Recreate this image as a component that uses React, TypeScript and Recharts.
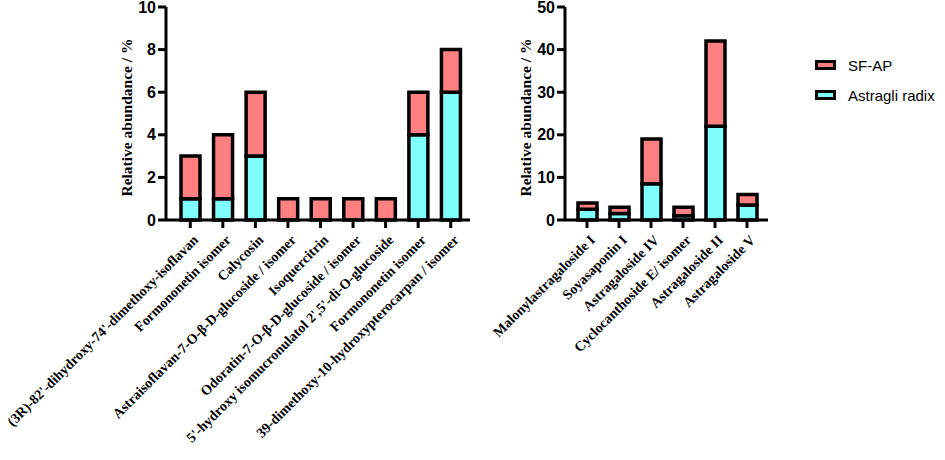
import { BarChart, Bar, XAxis, YAxis } from "recharts";

const leftCategories = [
  "(3R)-82'-dihydroxy-74'-dimethoxy-isoflavan",
  "Formononetin isomer",
  "Calycosin",
  "Astraisoflavan-7-O-β-D-glucoside / isomer",
  "Isoquercitrin",
  "Odoratin-7-O-β-D-glucoside / isomer",
  "5'-hydroxy isomucronulatol 2',5'-di-O-glucoside",
  "Formononetin isomer ",
  "39-dimethoxy-10-hydroxypterocarpan / isomer",
];
const leftRadix = [1, 1, 3, 0, 0, 0, 0, 4, 6];
const leftSfap = [2, 3, 3, 1, 1, 1, 1, 2, 2];
const leftTicks = [0, 2, 4, 6, 8, 10];

const rightCategories = [
  "Malonylastragaloside I",
  "Soyasaponin I",
  "Astragaloside IV",
  "Cyclocanthoside E/ isomer",
  "Astragaloside II",
  "Astragaloside V",
];
const rightRadix = [2.5, 1.5, 8.5, 1, 22, 3.5];
const rightSfap = [1.5, 1.5, 10.5, 2, 20, 2.5];
const rightTicks = [0, 10, 20, 30, 40, 50];

const RADIX = "#80FFFF";
const SFAP = "#FF8080";

const legendItems = [
  { name: "SF-AP", color: SFAP },
  { name: "Astragli radix", color: RADIX },
];

const leftData = leftCategories.map((name, i) => ({
  name,
  radix: leftRadix[i],
  sfap: leftSfap[i],
}));
const rightData = rightCategories.map((name, i) => ({
  name,
  radix: rightRadix[i],
  sfap: rightSfap[i],
}));

const SERIF = "'Liberation Serif', 'Times New Roman', serif";
const SANS = "'Liberation Sans', Arial, sans-serif";

function SlantTick(props: any) {
  const { x, y, payload } = props;
  return (
    <g transform={`translate(${x + 6},${y + 8})`}>
      <text
        x={0}
        y={0}
        dy={4}
        transform="rotate(-45)"
        textAnchor="end"
        fontFamily={SERIF}
        fontWeight={700}
        fontSize={14}
        fill="#000"
      >
        {payload.value}
      </text>
    </g>
  );
}

function YTitle(props: any) {
  const vb = props.viewBox || {};
  const cx = vb.x + vb.width - 40;
  const cy = vb.y + vb.height / 2 + 4;
  return (
    <text
      x={cx}
      y={cy}
      transform={`rotate(-90, ${cx}, ${cy})`}
      textAnchor="middle"
      dominantBaseline="central"
      fontFamily={SERIF}
      fontWeight={700}
      fontSize={15.5}
      fill="#000"
    >
      Relative abundance / %
    </text>
  );
}

const axisLine = { stroke: "#000", strokeWidth: 3 };
const tickLine = { stroke: "#000", strokeWidth: 3 };
const yTick = { fill: "#000", fontSize: 16, fontWeight: 700, fontFamily: SANS };

function StackChart({
  data,
  width,
  yWidth,
  ticks,
  padding,
  right,
}: {
  data: any[];
  width: number;
  yWidth: number;
  ticks: number[];
  padding: { left: number; right: number };
  right: number;
}) {
  return (
    <BarChart
      width={width}
      height={460}
      data={data}
      margin={{ top: 7, right, left: 0, bottom: 0 }}
    >
      <XAxis
        dataKey="name"
        interval={0}
        height={240}
        padding={padding}
        axisLine={axisLine}
        tickLine={tickLine}
        tickSize={8}
        tick={<SlantTick />}
      />
      <YAxis
        width={yWidth}
        domain={[0, ticks[ticks.length - 1]]}
        ticks={ticks}
        interval={0}
        axisLine={axisLine}
        tickLine={tickLine}
        tickSize={8}
        tick={yTick}
        label={{ content: <YTitle /> }}
      />
      <Bar
        dataKey="radix"
        stackId="a"
        fill={RADIX}
        stroke="#000"
        strokeWidth={3.5}
        barSize={19}
        isAnimationActive={false}
      />
      <Bar
        dataKey="sfap"
        stackId="a"
        fill={SFAP}
        stroke="#000"
        strokeWidth={3.5}
        barSize={19}
        isAnimationActive={false}
      />
    </BarChart>
  );
}

export default function App() {
  return (
    <div
      style={{
        position: "absolute",
        left: 0,
        top: 0,
        width: 945,
        height: 460,
        background: "#fff",
      }}
    >
      <div style={{ position: "absolute", left: 0, top: 0 }}>
        <StackChart
          data={leftData}
          width={480}
          yWidth={166}
          ticks={leftTicks}
          padding={{ left: 8, right: 3 }}
          right={10}
        />
      </div>
      <div style={{ position: "absolute", left: 480, top: 0 }}>
        <StackChart
          data={rightData}
          width={300}
          yWidth={85}
          ticks={rightTicks}
          padding={{ left: 6, right: 5 }}
          right={12}
        />
      </div>
      <div style={{ position: "absolute", left: 815, top: 50 }}>
        {legendItems.map((item) => (
          <div
            key={item.name}
            style={{
              display: "flex",
              alignItems: "center",
              height: 30,
              fontFamily: SANS,
              fontSize: 15,
              color: "#000",
            }}
          >
            <div
              style={{
                width: 15,
                height: 4,
                border: "3px solid #000",
                background: item.color,
                marginRight: 12,
              }}
            />
            {item.name}
          </div>
        ))}
      </div>
    </div>
  );
}
